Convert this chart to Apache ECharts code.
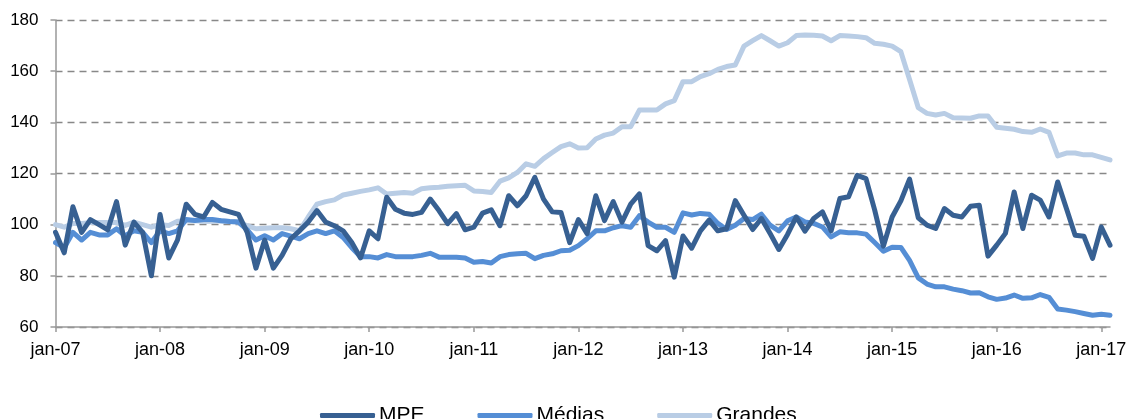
<!DOCTYPE html>
<html>
<head>
<meta charset="utf-8">
<script src="https://cdn.jsdelivr.net/npm/echarts@6/dist/echarts.min.js"></script>
<style>
  html, body { margin: 0; padding: 0; background: #fff; }
  #chart { width: 1130px; height: 419px; }
</style>
</head>
<body>
<div id="chart"></div>
<script>
// monthly index, jan-07 .. fev-17
var monthNames = ['jan', 'fev', 'mar', 'abr', 'mai', 'jun', 'jul', 'ago', 'set', 'out', 'nov', 'dez']
var firstYear = 2007
var monthCount = 122

var seriesNames = ['MPE', 'Médias', 'Grandes']
var seriesColors = ['#376092', '#558ED5', '#B9CDE5']

var mpe = [
  97, 89, 107, 97, 102, 100, 98, 109, 92, 101, 97, 80,
  104, 87, 94, 108, 104, 103, 108.7, 106, 105, 104, 97, 83,
  94, 83, 88, 94.5, 97.6, 101, 105.5, 101, 99.6, 97.6, 93, 87,
  97.6, 94.5, 110.7, 106, 104.5, 104, 104.8, 110, 105.5, 100.4, 104.3, 98,
  99, 104.5, 105.8, 99.6, 111.3, 107.4, 111.3, 118.5, 110, 105, 104.8, 93,
  102, 96.5, 111.3, 101.6, 109, 101, 108, 112, 91.8, 89.8, 93.8, 79.5,
  95.6, 90.8, 97.6, 101.8, 97.6, 98.4, 109.4, 103.7, 98.1, 102.4, 96.5, 90.3,
  96.2, 103, 97.5, 102.4, 105, 97.6, 110.2, 110.9, 119.3, 118, 105.7, 91.6,
  103, 109.3, 117.8, 102.7, 99.8, 98.5, 106.3, 103.7, 103, 107.2, 107.6, 87.7,
  92, 96.6, 112.8, 98.5, 111.5, 109.6, 103, 116.7, 106.3, 95.9, 95.5, 86.8,
  99.1, 92
]

var medias = [
  93, 91, 97, 94, 97, 96, 96, 98.4, 95.7, 97.6, 97, 93,
  97.6, 96.5, 97.6, 102, 101.6, 102, 102, 101.5, 101.2, 101, 98, 94,
  95.7, 94, 96.5, 95.5, 94.5, 96.5, 97.6, 96.5, 97.6, 95, 91, 87.5,
  87.5, 87, 88.3, 87.5, 87.5, 87.5, 88, 88.8, 87.3, 87.3, 87.3, 87,
  85.3, 85.6, 85, 87.5, 88.3, 88.6, 88.8, 86.7, 88, 88.6, 89.8, 90,
  91.8, 94.5, 97.6, 97.6, 98.8, 99.6, 99, 103.5, 101, 99, 99, 97,
  104.6, 103.8, 104.4, 104.1, 100.5, 98.1, 99.8, 102.4, 102, 104.1, 99.8, 97.6,
  101.5, 103, 101.1, 100.5, 99.1, 95.2, 97.2, 96.8, 96.8, 96.3, 93, 89.6,
  91.2, 91.1, 86, 79.2, 76.8, 75.7, 75.7, 74.8, 74.2, 73.3, 73.4, 71.8,
  70.8, 71.3, 72.5, 71.2, 71.4, 72.7, 71.6, 67, 66.6, 66, 65.3, 64.6,
  65, 64.6
]

var grandes = [
  100, 99, 100.5, 100.5, 100.8, 100.8, 100.8, 100.8, 99.7, 101, 100, 99,
  100, 99.7, 101.3, 101.5, 101.5, 101.3, 101.3, 101.5, 101.2, 101, 99.6, 98.4,
  98.6, 98.8, 98.8, 98.4, 97.6, 103, 108, 109, 109.7, 111.6, 112.3, 113,
  113.6, 114.4, 112, 112.3, 112.6, 112.3, 114, 114.4, 114.6, 115, 115.2, 115.4,
  113.2, 113, 112.6, 117, 118.3, 120.4, 123.8, 122.8, 125.8, 128.2, 130.5, 131.6,
  130, 130.1, 133.5, 135, 135.8, 138.3, 138.3, 144.8, 144.8, 144.8, 147.2, 148.5,
  155.9, 155.9, 157.9, 159, 160.7, 161.8, 162.4, 169.8, 171.9, 173.9, 171.9, 169.8,
  171.1, 173.9, 174.1, 174, 173.75, 171.9, 173.9, 173.75, 173.5, 173.1, 170.9, 170.5,
  169.8, 167.6, 156.7, 145.7, 143.5, 142.9, 143.5, 141.8, 141.7, 141.6, 142.5, 142.5,
  138.1, 137.7, 137.3, 136.4, 136.1, 137.4, 136.1, 126.9, 128, 128, 127.3, 127.3,
  126.3, 125.3
]

var yTicks = [60, 80, 100, 120, 140, 160, 180]

var months = []
for (let i = 0; i < monthCount; i++) {
  let yy = firstYear + Math.floor(i / 12)
  months.push(monthNames[i % 12] + '-' + String(yy).slice(2))
}

function yearStart(index) {
  return index % 12 === 0
}

var font = '"Liberation Sans", Arial, sans-serif'

var chart = echarts.init(document.getElementById('chart'))

var option = {
  animation: false,
  textStyle: { fontFamily: font },
  grid: { left: 55.5, right: 20, top: 20, bottom: 92, containLabel: false },
  legend: {
    top: 400,
    left: 315,
    icon: 'roundRect',
    itemWidth: 55,
    itemHeight: 5,
    itemGap: 53,
    textStyle: { fontSize: 21, color: '#000', fontFamily: font, padding: [0, 0, 0, -1] },
    data: seriesNames
  },
  xAxis: {
    type: 'category',
    boundaryGap: false,
    data: months,
    axisLine: { lineStyle: { color: '#999', width: 1.5 } },
    axisTick: { show: true, interval: function(i) { return yearStart(i) }, length: 5, lineStyle: { color: '#999', width: 1.5 } },
    axisLabel: {
      interval: function(i) { return yearStart(i) },
      margin: 14,
      fontSize: 18,
      color: '#000',
      fontFamily: font
    },
    splitLine: { show: false }
  },
  yAxis: {
    type: 'value',
    min: yTicks[0],
    max: yTicks[yTicks.length - 1],
    interval: 20,
    axisLine: { show: true, lineStyle: { color: '#999', width: 1.5 } },
    axisTick: { show: true, length: 5, lineStyle: { color: '#999', width: 1.5 } },
    axisLabel: { margin: 17, fontSize: 17, color: '#000', fontFamily: font },
    splitLine: { show: true, lineStyle: { color: '#888', width: 1.3, type: [7, 5] } }
  },
  series: [
    { name: seriesNames[0], data: mpe },
    { name: seriesNames[1], data: medias },
    { name: seriesNames[2], data: grandes }
  ].map(function(s, k) {
    return {
      name: s.name,
      type: 'line',
      data: s.data,
      symbol: 'none',
      z: 3 - k,
      color: seriesColors[k],
      lineStyle: { width: 5, color: seriesColors[k], cap: 'round', join: 'round' }
    }
  })
}

chart.setOption(option)
</script>
</body>
</html>
